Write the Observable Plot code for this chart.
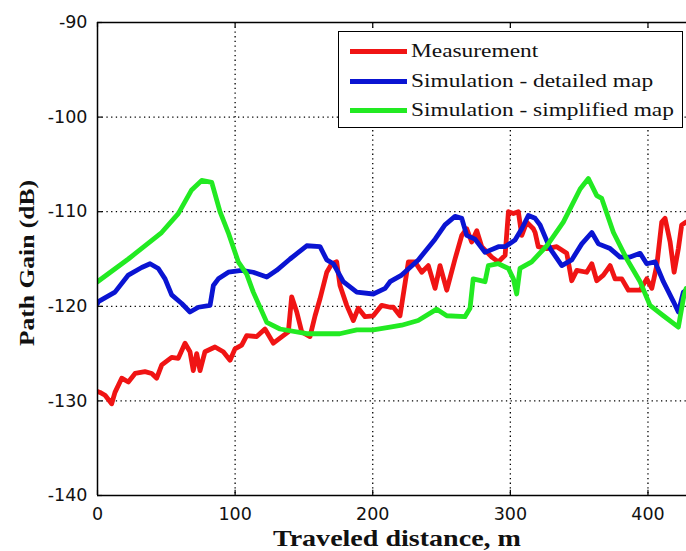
<!DOCTYPE html>
<html>
<head>
<meta charset="utf-8">
<script src="https://cdn.jsdelivr.net/npm/d3@7"></script>
<script src="https://cdn.jsdelivr.net/npm/@observablehq/plot@0.6"></script>
<style>
  html, body { margin: 0; padding: 0; background: #fff; }
  #wrap { position: relative; width: 686px; height: 551px; overflow: hidden; }
  #legend {
    position: absolute; left: 338px; top: 31px; width: 345px; height: 97px;
    border: 1px solid #000; background: #fff; box-sizing: border-box;
    font-family: "Liberation Serif", "Times New Roman", serif; font-size: 19px; color: #111;
  }
  .row { position: absolute; left: 0; height: 24px; display: flex; align-items: center; white-space: nowrap; }
  .swatch { width: 57px; height: 5px; margin-left: 11px; margin-right: 4px; }
  .lbl { display: inline-block; transform: scaleX(1.23); transform-origin: left center; }
</style>
</head>
<body>
<div id="wrap"></div>
<script>
// Measurement
const measX = [0,1.8,5.5,10.3,12.7,17.6,22.4,27.3,34.5,39.4,43,46.7,53.9,58.7,63.6,67.2,69.6,72.1,74.5,78.1,85.4,91.4,96.3,99.9,104.8,108.4,115.7,121.7,127.8,135,138.7,141.1,144.8,148.4,154.4,158.1,161.7,166.6,170.2,173.8,176.2,181.1,185.9,189.5,194.4,200.4,206.5,212.6,215,219.8,225.9,230.7,235.6,240.4,245.3,248.9,253.8,259.8,264.7,268.3,271.9,275.6,279.2,286.5,291.3,296.2,298.6,302.2,305.8,308.3,311.9,316.7,318,320.3,326.5,333.7,341,344.6,348.3,355.5,359.2,362.8,367.6,372.5,376.1,381,385.8,394.3,399.1,402.8,406.4,410,412.4,416.1,419,422.1,424.5,427.7];
const measY = [-129.0,-129.1,-129.4,-130.3,-129.1,-127.6,-128.0,-127.1,-126.9,-127.1,-127.6,-126.2,-125.4,-125.5,-123.9,-124.8,-126.8,-125.0,-126.8,-124.8,-124.3,-124.8,-125.7,-124.5,-124.1,-123.1,-123.2,-122.4,-123.9,-123.1,-122.7,-119.0,-120.6,-122.7,-123.2,-121.0,-119.2,-116.4,-115.5,-115.3,-117.8,-119.9,-121.5,-120.2,-121.1,-121.0,-119.9,-120.1,-120.1,-121.0,-115.3,-115.3,-116.4,-115.7,-118.1,-115.7,-118.3,-115.0,-112.5,-111.8,-113.2,-112.0,-113.7,-114.8,-115.3,-114.6,-110.0,-110.2,-110.0,-112.5,-111.1,-111.8,-112.2,-113.7,-113.9,-113.7,-114.4,-117.3,-116.2,-116.4,-115.5,-117.3,-116.7,-115.7,-117.1,-117.1,-118.3,-118.3,-117.1,-118.1,-115.7,-111.1,-110.7,-113.2,-116.4,-113.9,-111.4,-111.1];

// Simulation - detailed map
const detX = [0,0.6,12.7,22.4,32.1,38.2,44.2,49.1,53.9,61.2,67.2,73.3,81.8,84.2,87.8,95.1,104.8,113.2,123,130.2,139.9,152,161.7,166.6,171.4,178.6,188.4,200.4,209,212.6,221,233.1,245.3,252.5,259.8,264.7,268.3,274.3,281.6,291.3,296.2,303.4,308.3,313.1,318,321.6,328.9,337.4,344.6,351.9,359.2,364,372.5,379.7,387,394.3,399.1,405.2,411.2,418.5,422.1,425.7,427.7];
const detY = [-119.7,-119.5,-118.5,-116.7,-115.9,-115.5,-116.0,-117.1,-118.8,-119.7,-120.6,-120.1,-119.9,-117.8,-117.1,-116.4,-116.2,-116.4,-116.9,-116.2,-115.0,-113.6,-113.7,-115.1,-115.5,-117.4,-118.5,-118.7,-118.1,-117.4,-116.7,-115.1,-112.9,-111.4,-110.5,-110.7,-112.5,-112.9,-114.3,-113.7,-113.7,-113.0,-111.8,-110.4,-110.7,-111.4,-113.9,-115.7,-115.1,-113.4,-112.2,-113.4,-113.9,-114.8,-114.8,-114.4,-115.5,-115.3,-117.4,-119.5,-120.6,-118.5,-118.3];

// Simulation - simplified map
const simX = [0,22.4,46.6,58.7,68.4,75.7,83,89,95,102.3,108.4,113.2,123,132.6,152,176,188.4,200.4,212.6,221,233,246.5,253.8,267,270.7,273,281.6,284,291.3,298.6,302.2,304.6,307,315.5,326.5,338.5,350.7,356.7,362.8,366.4,374.9,384.6,394.3,401.5,411.2,422.1,425.7,427.7];
const simY = [-117.4,-115.0,-112.2,-110.2,-107.7,-106.7,-106.9,-110.0,-112.2,-115.3,-116.6,-118.5,-121.7,-122.4,-122.9,-122.9,-122.5,-122.5,-122.2,-122.0,-121.5,-120.3,-121.0,-121.1,-120.2,-117.1,-117.4,-115.7,-115.5,-116.0,-117.1,-118.7,-116.0,-115.3,-113.6,-111.1,-107.6,-106.5,-108.3,-108.6,-112.2,-115.0,-117.4,-119.9,-121.0,-122.2,-119.2,-118.1];

const seriesNames = ["Measurement", "Simulation - detailed map", "Simulation - simplified map"];
const seriesColors = ["#f01414", "#0a14d2", "#22ea22"];

const xTicks = [0, 100, 200, 300, 400];
const yTicks = [-140, -130, -120, -110, -100, -90];
const xGrid = [100, 200, 300, 400];
const yGrid = [-130, -120, -110, -100];

const toRows = (xs, ys, s) => xs.map((x, i) => ({x, y: ys[i], s}));
const rows = [
  ...toRows(measX, measY, seriesNames[0]),
  ...toRows(detX, detY, seriesNames[1]),
  ...toRows(simX, simY, seriesNames[2])
];

const serif = "'Liberation Serif', 'Times New Roman', serif";
const sans = "'DejaVu Sans', Verdana, sans-serif";
const xDom = [0, 428], yDom = [-140, -90];
const tickLenY = 0.55, tickLenX = 3.7;

const chart = Plot.plot({
  width: 686, height: 551,
  marginLeft: 97, marginRight: 0, marginTop: 22, marginBottom: 56,
  style: {fontFamily: sans, fontSize: "17.5px", background: "#fff", color: "#111"},
  x: {domain: xDom, label: null},
  y: {domain: yDom, label: null},
  color: {domain: seriesNames, range: seriesColors},
  marks: [
    Plot.ruleX(xGrid, {stroke: "#000", strokeWidth: 1.3, strokeDasharray: "1.3,3.4"}),
    Plot.ruleY(yGrid, {stroke: "#000", strokeWidth: 1.3, strokeDasharray: "1.3,3.4"}),
    Plot.line(rows, {x: "x", y: "y", z: "s", stroke: "s", strokeWidth: 4.8, strokeLinejoin: "round", strokeLinecap: "round", clip: true}),
    // inward tick marks
    Plot.ruleX(xTicks, {y1: yDom[0], y2: yDom[0] + tickLenY, stroke: "#000", strokeWidth: 1.2}),
    Plot.ruleX(xTicks, {y1: yDom[1], y2: yDom[1] - tickLenY, stroke: "#000", strokeWidth: 1.2}),
    Plot.ruleY(yTicks, {x1: xDom[0], x2: xDom[0] + tickLenX, stroke: "#000", strokeWidth: 1.2}),
    Plot.axisX(xTicks, {tickSize: 0, tickPadding: 12, fontSize: 17.5, tickFormat: d => String(d)}),
    Plot.axisY(yTicks, {tickSize: 0, tickPadding: 10, fontSize: 17.5, tickFormat: d => String(d)}),
    // box (left, bottom, top; right edge is cut off)
    Plot.ruleY([yDom[0], yDom[1]], {stroke: "#000", strokeWidth: 1.5}),
    Plot.ruleX([xDom[0]], {stroke: "#000", strokeWidth: 1.5})
  ]
});

const wrap = document.getElementById("wrap");
wrap.appendChild(chart);

// axis titles
const svg = d3.select(chart);
svg.append("text")
  .attr("x", 397).attr("y", 546)
  .attr("text-anchor", "middle")
  .attr("font-family", serif).attr("font-weight", "bold").attr("font-size", 22.5)
  .attr("textLength", 248).attr("lengthAdjust", "spacingAndGlyphs")
  .attr("fill", "#111")
  .text("Traveled distance, m");
svg.append("text")
  .attr("transform", "translate(34,263) rotate(-90)")
  .attr("text-anchor", "middle")
  .attr("font-family", serif).attr("font-weight", "bold").attr("font-size", 22)
  .attr("textLength", 166).attr("lengthAdjust", "spacingAndGlyphs")
  .attr("fill", "#111")
  .text("Path Gain (dB)");

// legend
const legend = document.createElement("div");
legend.id = "legend";
seriesNames.forEach((name, i) => {
  const row = document.createElement("div");
  row.className = "row";
  row.style.top = [7, 37, 66][i] + "px";
  const sw = document.createElement("div");
  sw.className = "swatch";
  sw.style.background = seriesColors[i];
  const tx = document.createElement("span");
  tx.className = "lbl";
  tx.textContent = name;
  row.appendChild(sw); row.appendChild(tx);
  legend.appendChild(row);
});
wrap.appendChild(legend);
</script>
</body>
</html>
